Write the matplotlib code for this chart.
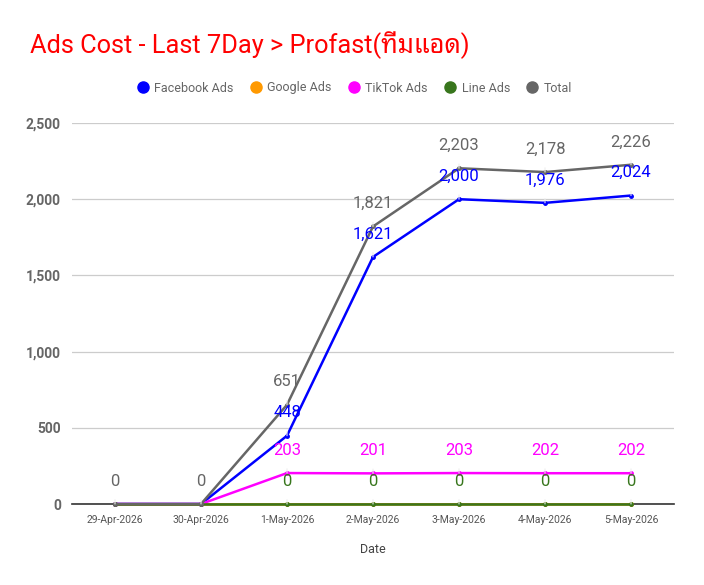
import matplotlib
matplotlib.use("Agg")
import matplotlib.pyplot as plt
from matplotlib import font_manager
from matplotlib.ft2font import FT2Font
from matplotlib.lines import Line2D

dates = ["29-Apr-2026", "30-Apr-2026", "1-May-2026", "2-May-2026",
         "3-May-2026", "4-May-2026", "5-May-2026"]
facebook = [0, 0, 448, 1621, 2000, 1976, 2024]
google = [0, 0, 0, 0, 0, 0, 0]
tiktok = [0, 0, 203, 201, 203, 202, 202]
line_ads = [0, 0, 0, 0, 0, 0, 0]
total = [0, 0, 651, 1821, 2203, 2178, 2226]
yticks = [0, 500, 1000, 1500, 2000, 2500]

# find a font with Thai glyphs
thai_family = None
for f in font_manager.fontManager.ttflist:
    try:
        ft = FT2Font(f.fname)
        if ft.get_char_index(0x0E17) and ft.get_char_index(0x0E21):
            thai_family = f.name
            if "Noto" in f.name:
                break
    except Exception:
        pass
fams = ["Roboto"] + ([thai_family] if thai_family else []) + ["DejaVu Sans"]
plt.rcParams["font.family"] = fams

fig = plt.figure(figsize=(7.04, 5.85), dpi=100)
ax = fig.add_axes([72 / 704, 1 - 504 / 585, (674 - 72) / 704, (504 - 123) / 585])

x = list(range(len(dates)))
series = [
    ("Facebook Ads", facebook, "#0000ff", True),
    ("Google Ads", google, "#ff9900", False),
    ("TikTok Ads", tiktok, "#ff00ff", True),
    ("Line Ads", line_ads, "#38761d", True),
    ("Total", total, "#666666", True),
]
for k, (name, vals, col, lab) in enumerate(series):
    ax.plot(x, vals, color=col, lw=1.8, marker="o", ms=2.5, zorder=3 + k * 0.1, clip_on=False)

# labels
for name, vals, col, lab in series:
    if not lab:
        continue
    for i, v in enumerate(vals):
        if name in ("Facebook Ads", "TikTok Ads", "Line Ads") and i < 2:
            continue
        ax.annotate(f"{v:,}", xy=(i, v), xytext=(0, 16.5), textcoords="offset points",
                    ha="center", va="center", fontsize=12, color=col, zorder=5,
                    arrowprops=dict(arrowstyle="-", color="#eeeeee", lw=0.8,
                                    shrinkA=6, shrinkB=0))

ax.set_xlim(-0.5, 6.5)
ax.set_ylim(0, 2500)
ax.set_yticks(yticks)
ax.set_yticklabels([f"{t:,}" for t in yticks], fontsize=10, fontweight="bold", color="#666666")
ax.set_xticks(x)
ax.set_xticklabels(dates, fontsize=7.5, color="#555555")
ax.tick_params(axis="both", length=0)
ax.tick_params(axis="y", pad=8)
ax.tick_params(axis="x", pad=8)
ax.grid(axis="y", color="#cccccc", lw=0.9)
ax.set_axisbelow(True)
for s in ["top", "right", "left"]:
    ax.spines[s].set_visible(False)
ax.spines["bottom"].set_color("#333333")
ax.spines["bottom"].set_linewidth(1.2)
ax.spines["bottom"].set_zorder(2)
ax.set_xlabel("Date", fontsize=9, color="#444444", labelpad=13)

fig.text(30 / 704, 1 - 45 / 585, "Ads Cost - Last 7Day > Profast(ทีมแอด)",
         fontsize=18.3, color="#ff0000", ha="left", va="center")

handles = [Line2D([], [], ls="none", marker="o", ms=8, color=c) for _, _, c, _ in series]
fig.legend(handles, [s[0] for s in series], loc="center", bbox_to_anchor=(353 / 704, 1 - 88 / 585),
           ncol=5, frameon=False, fontsize=9, labelcolor="#666666", handletextpad=0.2,
           columnspacing=1.1, handlelength=1.4)

fig.savefig("out.png", dpi=100)
